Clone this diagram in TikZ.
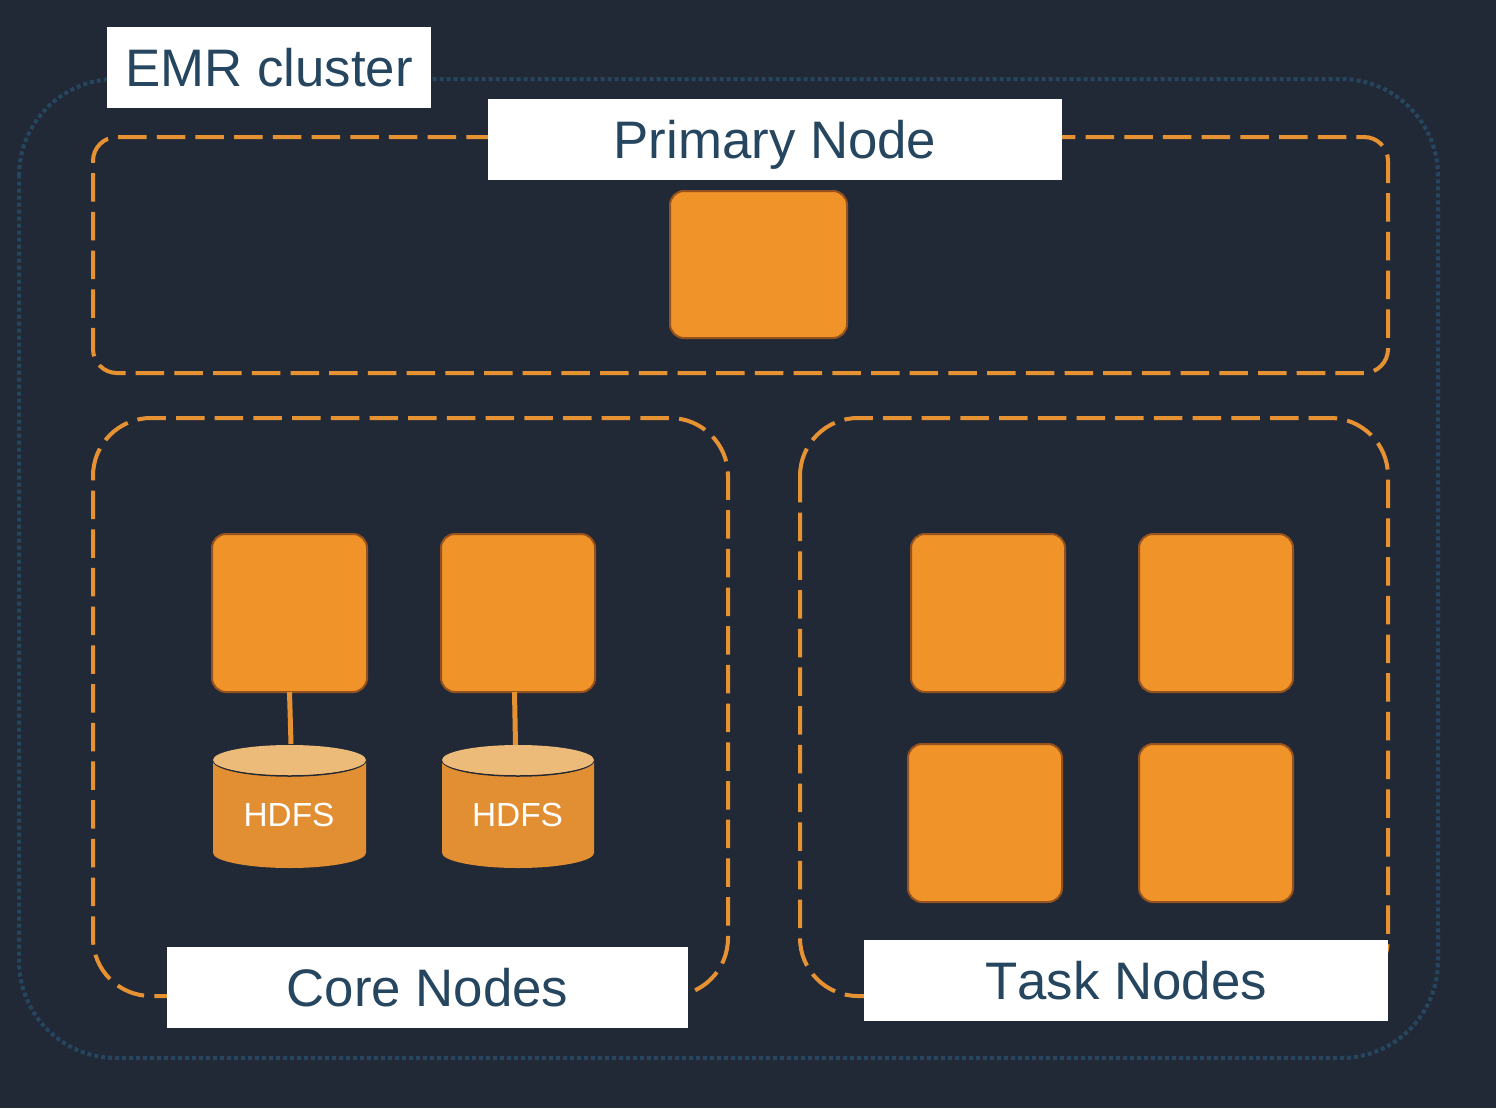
\documentclass[tikz,border=0pt]{standalone}
\usepackage{fontspec}
\setmainfont{Liberation Sans}
\usetikzlibrary{shapes.geometric}
\definecolor{bgc}{HTML}{222936}
\definecolor{navy}{HTML}{264660}
\definecolor{orangeA}{HTML}{F09329}
\definecolor{orangeB}{HTML}{E69233}
\definecolor{edgeA}{HTML}{96521E}
\definecolor{bodyc}{HTML}{E28F33}
\definecolor{topc}{HTML}{ECBB7A}
\tikzset{
  groupbox/.style={draw=orangeB,line width=4pt,dash pattern=on 28.5pt off 10.2pt},
  clusterbox/.style={draw=navy,line width=4pt,dash pattern=on 4pt off 3pt},
  titlebox/.style={fill=white,text=navy,inner sep=0pt,font=\fontsize{52.8}{60}\selectfont,text height=37pt,text depth=0pt,minimum height=81pt},
  inst/.style={draw=edgeA,fill=orangeA,line width=2pt,rounded corners=14pt,inner sep=0pt},
  linkline/.style={draw=orangeB,line width=5pt},
  dbtop/.style={ellipse,fill=topc,inner sep=0pt,minimum width=153pt,minimum height=30pt},
  dblabel/.style={text=white,inner sep=0pt,font=\fontsize{33.4}{40}\selectfont,text height=24pt,text depth=0pt},
}
% rounded outline that starts on the left side just below the top-left corner
\newcommand{\roundedoutline}[6]{% style, x0, y0, x1, y1, r
  \pgfmathsetmacro{\kk}{0.4477*#6}
  \draw[#1] (#2,#3+#6) .. controls (#2,#3+\kk) and (#2+\kk,#3) .. (#2+#6,#3)
    -- (#4-#6,#3) .. controls (#4-\kk,#3) and (#4,#3+\kk) .. (#4,#3+#6)
    -- (#4,#5-#6) .. controls (#4,#5-\kk) and (#4-\kk,#5) .. (#4-#6,#5)
    -- (#2+#6,#5) .. controls (#2+\kk,#5) and (#2,#5-\kk) .. (#2,#5-#6)
    -- cycle;
}
\newcommand{\dbbody}[3]{% left, right, mid
  \fill[bodyc] (#1,760) -- (#1,853) .. controls (#1,861) and (#3-42,868) .. (#3,868)
    .. controls (#3+42,868) and (#2,861) .. (#2,853) -- (#2,760) -- cycle;
  \draw[bgc,line width=1.5pt] (#1,760) .. controls (#1,769) and (#3-42,776) .. (#3,776)
    .. controls (#3+42,776) and (#2,769) .. (#2,760);
}
\begin{document}
\begin{tikzpicture}[x=1pt,y=-1pt]
\useasboundingbox (0,0) rectangle (1496,1108);
\fill[bgc] (0,0) rectangle (1496,1108);
% cluster outline
\roundedoutline{clusterbox}{19}{79}{1438}{1058}{97}
% groups
\roundedoutline{groupbox}{93}{137}{1388}{373}{24}
\roundedoutline{groupbox}{93}{418}{728}{996}{58}
\roundedoutline{groupbox}{800}{418}{1388}{996}{58}
% instances
\node[inst,minimum width=177pt,minimum height=147pt] (p1) at (758.5,264.5) {};
\node[inst,minimum width=155pt,minimum height=158pt] (c1) at (289.5,613) {};
\node[inst,minimum width=154pt,minimum height=158pt] (c2) at (518,613) {};
\node[inst,minimum width=154pt,minimum height=158pt] (t1) at (988,613) {};
\node[inst,minimum width=154pt,minimum height=158pt] (t2) at (1216,613) {};
\node[inst,minimum width=154pt,minimum height=158pt] (t3) at (985,823) {};
\node[inst,minimum width=154pt,minimum height=158pt] (t4) at (1216,823) {};
% HDFS cylinders
\dbbody{213}{366}{289.5}
\dbbody{442}{594}{518}
\node[dbtop] (d1) at (289.5,760) {};
\node[dbtop,minimum width=152pt] (d2) at (518,760) {};
\node[dblabel] (h1) at (289,814.5) {HDFS};
\node[dblabel] (h2) at (517.5,814.5) {HDFS};
% connectors
\coordinate (c1b) at (289.5,692);
\coordinate (d1t) at (291,744);
\coordinate (c2b) at (514.5,692);
\coordinate (d2t) at (515.5,745);
\draw[linkline] (c1b) -- (d1t);
\draw[linkline] (c2b) -- (d2t);
% titles
\node[titlebox,minimum width=324pt] (emr) at (269,67.5) {EMR cluster};
\node[titlebox,minimum width=574pt] (prim) at (775,139.5) {Primary Node};
\node[titlebox,minimum width=521pt] (core) at (427.5,987.5) {Core Nodes};
\node[titlebox,minimum width=524pt] (task) at (1126,980.5) {\addfontfeature{Kerning=Off}Task Nodes};
\end{tikzpicture}
\end{document}
